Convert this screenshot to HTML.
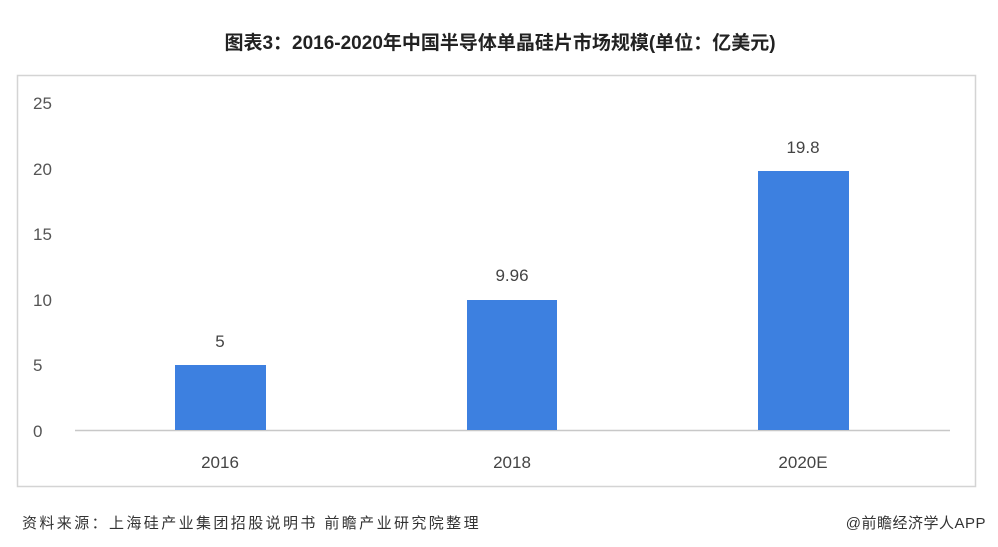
<!DOCTYPE html>
<html><head><meta charset="utf-8"><style>
html,body{margin:0;padding:0;background:#fff;width:998px;height:547px;overflow:hidden}
svg text{font-family:"Liberation Sans","Noto Sans CJK SC",sans-serif}
</style></head><body>
<svg width="998" height="547" xmlns="http://www.w3.org/2000/svg">
<text x="500" y="49" text-anchor="middle" font-size="19" font-weight="bold" fill="#222">图表3：2016-2020年中国半导体单晶硅片市场规模(单位：亿美元)</text>
<rect x="17.5" y="75.5" width="958" height="411" fill="none" stroke="#d4d4d4" stroke-width="1.5"/>
<g font-size="17" fill="#555" text-anchor="start">
<text x="33" y="109">25</text>
<text x="33" y="175">20</text>
<text x="33" y="240">15</text>
<text x="33" y="306">10</text>
<text x="33" y="371">5</text>
<text x="33" y="437">0</text>
</g>
<line x1="75" y1="430.5" x2="950" y2="430.5" stroke="#c8c8c8" stroke-width="1.5"/>
<rect x="175" y="365" width="91" height="65" fill="#3d80e0"/>
<rect x="467" y="300" width="90" height="130" fill="#3d80e0"/>
<rect x="758" y="171" width="91" height="259" fill="#3d80e0"/>
<g font-size="17" fill="#444" text-anchor="middle">
<text x="220" y="347">5</text>
<text x="512" y="281">9.96</text>
<text x="803" y="153">19.8</text>
<text x="220" y="468">2016</text>
<text x="512" y="468">2018</text>
<text x="803" y="468">2020E</text>
</g>
<text x="22" y="528" font-size="15" fill="#333" letter-spacing="2.4">资料来源：上海硅产业集团招股说明书 前瞻产业研究院整理</text>
<text x="986" y="528" font-size="15" fill="#333" text-anchor="end" letter-spacing="0.5">@前瞻经济学人APP</text>
</svg>
</body></html>
